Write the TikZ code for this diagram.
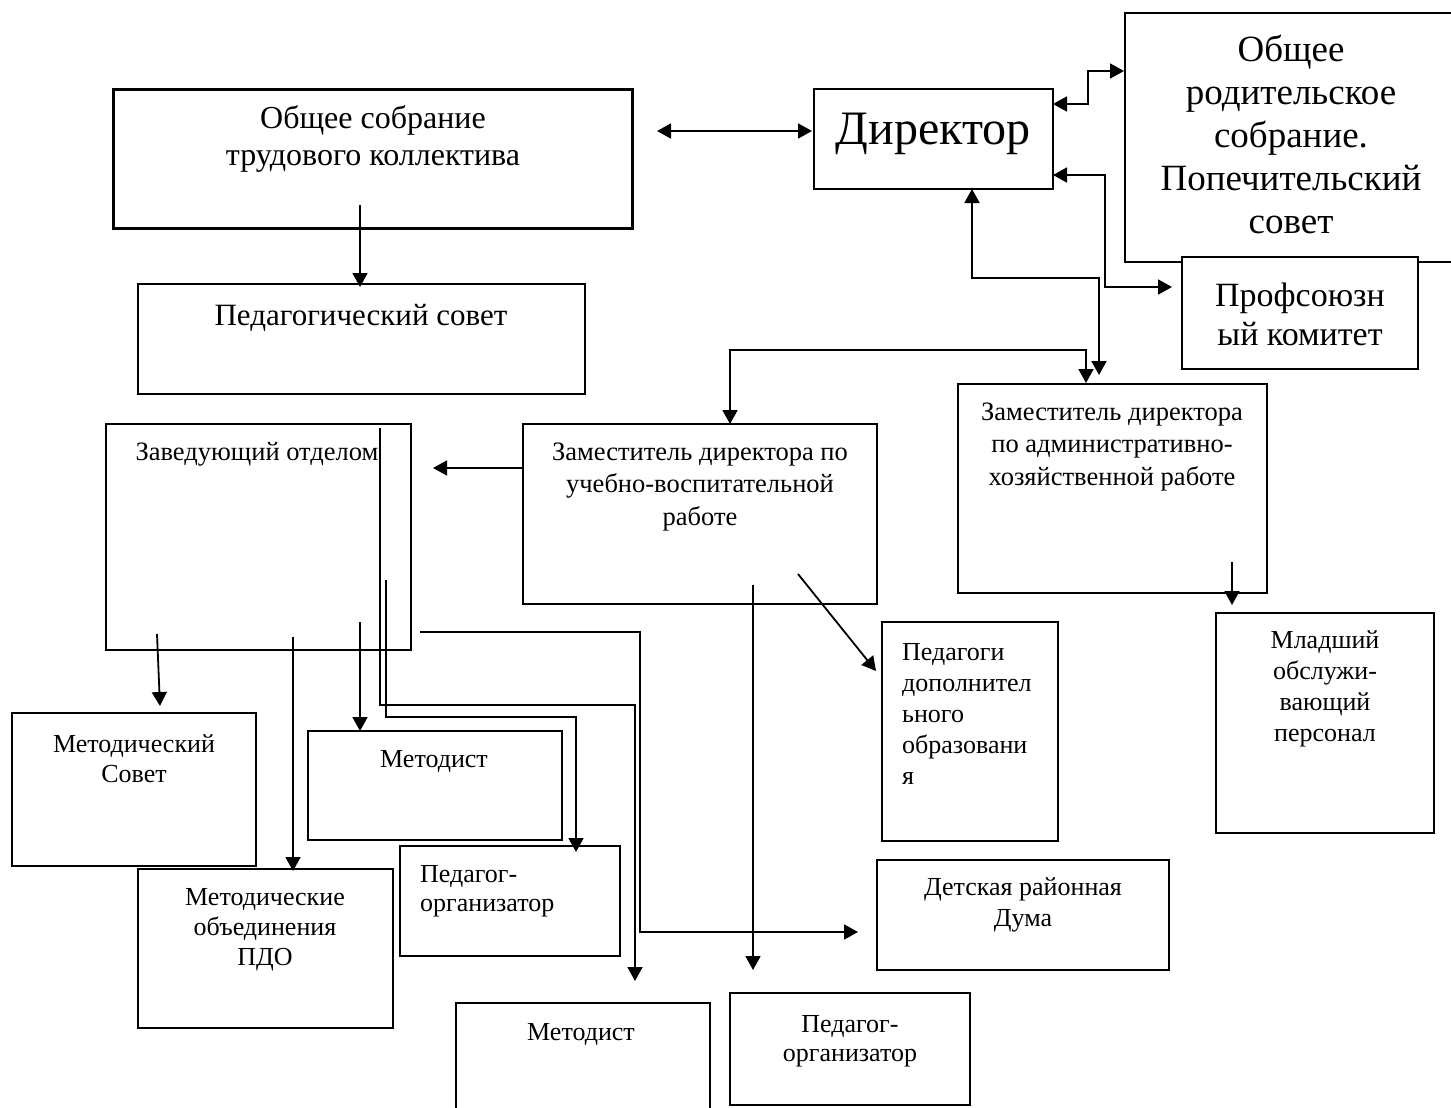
\documentclass[tikz,border=0pt]{standalone}
\usepackage{fontspec}
\setmainfont{Liberation Serif}
\usetikzlibrary{arrows.meta}
\newcommand\myfs[2]{\fontsize{#1}{#2}\selectfont}
\begin{document}
\begin{tikzpicture}[x=1pt,y=-1pt,
  box/.style={draw, line width=2.2pt, inner sep=0pt, outer sep=0pt},
  txt/.style={inner sep=0pt, align=center},
  ltxt/.style={inner sep=0pt, align=left},
  conn/.style={line width=1.8pt},
  arr/.style={conn, -{Triangle[length=14pt,width=15pt]}},
  darr/.style={conn, {Triangle[length=14pt,width=15pt]}-{Triangle[length=14pt,width=15pt]}}
]
\useasboundingbox (0,0) rectangle (1451,1108);
\clip (0,0) rectangle (1451,1108);

% ---- boxes ----
\node[box, minimum width=519, minimum height=139] (osk)  at (373,159) {};
\node[box, minimum width=239, minimum height=100] (dir)  at (933.5,139) {};
\node[box, minimum width=375, minimum height=249] (rod)  at (1312.5,137.5) {};
\node[box, fill=white, minimum width=236, minimum height=112] (prof) at (1300,313) {};
\node[box, minimum width=447, minimum height=110] (ps)   at (361.5,339) {};
\node[box, minimum width=305, minimum height=226] (zav)  at (258.5,537) {};
\node[box, minimum width=354, minimum height=180] (uvr)  at (700,514) {};
\node[box, minimum width=309, minimum height=209] (ahr)  at (1112.5,488.5) {};
\node[box, minimum width=218, minimum height=220] (mop)  at (1325,723) {};
\node[box, minimum width=176, minimum height=219] (pdo)  at (970,731.5) {};
\node[box, minimum width=244, minimum height=153] (msov) at (134,789.5) {};
\node[box, minimum width=255, minimum height=159] (mo)   at (265.5,948.5) {};
\node[box, minimum width=254, minimum height=109] (met1) at (435,785.5) {};
\node[box, minimum width=220, minimum height=110] (po1)  at (510,901) {};
\node[box, minimum width=292, minimum height=110] (drd)  at (1023,915) {};
\node[box, minimum width=254, minimum height=130] (met2) at (583,1068) {};
\node[box, minimum width=240, minimum height=112] (po2)  at (850,1049) {};

% ---- texts ----
\node[txt, font={\myfs{32}{37}}] (t-osk) at (373,139) {Общее собрание\\трудового коллектива};
\node[txt, font={\myfs{48}{52}}] (t-dir) at (933,134) {Директор};
\node[txt, font={\myfs{37}{43}}] (t-rod) at (1291,134) {Общее\\родительское\\собрание.\\Попечительский\\совет};
\node[txt, font={\myfs{34}{39}}] (t-prof) at (1300,314) {Профсоюзн\\ый комитет};
\node[txt, font={\myfs{31}{36}}] (t-ps) at (361,318) {Педагогический совет};
\node[txt, font={\myfs{26.5}{32}}] (t-zav) at (257,454) {Заведующий отделом};
\node[txt, font={\myfs{26.5}{32.5}}] (t-uvr) at (700,487) {Заместитель директора по\\учебно-воспитательной\\работе};
\node[txt, font={\myfs{26.5}{32.5}}] (t-ahr) at (1112,447) {Заместитель директора\\по административно-\\хозяйственной работе};
\node[txt, font={\myfs{26}{31}}] (t-mop) at (1325,689) {Младший\\обслужи-\\вающий\\персонал};
\node[ltxt, font={\myfs{26}{31}}, anchor=west] (t-pdo) at (902,714) {Педагоги\\дополнител\\ьного\\образовани\\я};
\node[txt, font={\myfs{26}{30}}] (t-msov) at (134,759) {Методический\\Совет};
\node[txt, font={\myfs{26}{30}}] (t-mo) at (265,930) {Методические\\объединения\\ПДО};
\node[txt, font={\myfs{26}{30}}] (t-met1) at (434,761) {Методист};
\node[ltxt, font={\myfs{26}{29}}, anchor=west] (t-po1) at (420,891) {Педагог-\\организатор};
\node[txt, font={\myfs{26}{31}}] (t-drd) at (1023,905) {Детская районная\\Дума};
\node[txt, font={\myfs{26}{30}}] (t-met2) at (581,1034) {Методист};
\node[txt, font={\myfs{26}{29}}] (t-po2) at (850,1041) {Педагог-\\организатор};

% ---- connector points ----
\coordinate (a1) at (657,131);
\coordinate (a2) at (812,131);
\coordinate (b1) at (1053,104);
\coordinate (b2) at (1088,104);
\coordinate (b3) at (1088,71);
\coordinate (b4) at (1124,71);
\coordinate (c1) at (1053,175);
\coordinate (c2) at (1105,175);
\coordinate (c3) at (1105,287);
\coordinate (c4) at (1172,287);
\coordinate (d1) at (972,189);
\coordinate (d2) at (972,278);
\coordinate (d3) at (1099,278);
\coordinate (d4) at (1099,375);
\coordinate (e1) at (730,424);
\coordinate (e2) at (730,350);
\coordinate (e3) at (1086,350);
\coordinate (e4) at (1086,383);
\coordinate (f1) at (360,205);
\coordinate (f2) at (360,287);
\coordinate (g1) at (523,468);
\coordinate (g2) at (433,468);
\coordinate (h1) at (157,634);
\coordinate (h2) at (160,706);
\coordinate (i1) at (293,637);
\coordinate (i2) at (293,871);
\coordinate (j1) at (360,622);
\coordinate (j2) at (360,731);
\coordinate (k1) at (380,428);
\coordinate (k2) at (380,705);
\coordinate (k3) at (635,705);
\coordinate (k4) at (635,981);
\coordinate (l1) at (386,580);
\coordinate (l2) at (386,717);
\coordinate (l3) at (576,717);
\coordinate (l4) at (576,852);
\coordinate (m1) at (420,632);
\coordinate (m2) at (640,632);
\coordinate (m3) at (640,932);
\coordinate (m4) at (858,932);
\coordinate (n1) at (753,585);
\coordinate (n2) at (753,970);
\coordinate (o1) at (798,574);
\coordinate (o2) at (876,671);
\coordinate (p1) at (1232,562);
\coordinate (p2) at (1232,605);

% ---- connectors ----
\draw[darr] (a1) -- (a2);
\draw[darr] (b1) -- (b2) -- (b3) -- (b4);
\draw[darr] (c1) -- (c2) -- (c3) -- (c4);
\draw[darr] (d1) -- (d2) -- (d3) -- (d4);
\draw[darr] (e1) -- (e2) -- (e3) -- (e4);
\draw[arr] (f1) -- (f2);
\draw[arr] (g1) -- (g2);
\draw[arr] (h1) -- (h2);
\draw[arr] (i1) -- (i2);
\draw[arr] (j1) -- (j2);
\draw[arr] (k1) -- (k2) -- (k3) -- (k4);
\draw[arr] (l1) -- (l2) -- (l3) -- (l4);
\draw[arr] (m1) -- (m2) -- (m3) -- (m4);
\draw[arr] (n1) -- (n2);
\draw[arr] (o1) -- (o2);
\draw[arr] (p1) -- (p2);
\end{tikzpicture}
\end{document}
